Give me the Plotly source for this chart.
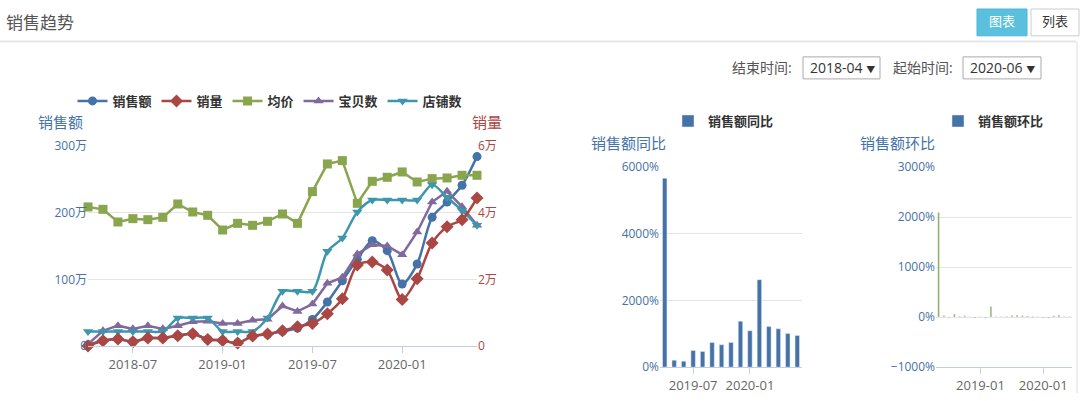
import plotly.graph_objects as go

W, H = 1080, 401

months = ['2018-04', '2018-05', '2018-06', '2018-07', '2018-08', '2018-09', '2018-10', '2018-11',
          '2018-12', '2019-01', '2019-02', '2019-03', '2019-04', '2019-05', '2019-06', '2019-07',
          '2019-08', '2019-09', '2019-10', '2019-11', '2019-12', '2020-01', '2020-02', '2020-03',
          '2020-04', '2020-05', '2020-06']

# left chart series
sales = [2, 8, 10.5, 6.5, 12, 12, 15.5, 18.5, 10, 8.5, 4.5, 15, 18, 22, 27, 40, 66, 98, 130, 158,
         143, 93, 123, 193, 216, 241, 284]                     # 销售额 (万)
volume = [0.0, 0.16, 0.21, 0.13, 0.24, 0.24, 0.31, 0.37, 0.20, 0.17, 0.09, 0.30, 0.36, 0.46, 0.58,
          0.68, 0.97, 1.42, 2.43, 2.52, 2.28, 1.40, 2.02, 3.09, 3.58, 3.79, 4.44]  # 销量 (万)
avg_price = [208.6, 205, 186, 191, 189.5, 193, 213, 201, 196, 174, 184, 181, 187, 198, 184, 231.5,
             273, 278, 214, 247, 253, 261, 246, 251, 252, 256, 256]
items = [3, 23, 30.6, 25.8, 30.6, 25.8, 30.6, 36.4, 37.3, 34, 34, 38.8, 40.2, 60, 52, 63, 94, 103,
         138, 152, 150, 137, 171, 216, 232, 209, 181]
stores = [22, 22, 22, 22, 22, 22, 42, 42, 42, 22, 22, 22, 42, 82, 82, 82, 142, 162, 201, 219, 219,
          219, 219, 242, 223, 203, 181]

left_ticks = ['2018-07', '2019-01', '2019-07', '2020-01']
left_yvals = [0, 100, 200, 300]
left_ylabels = ['0', '100万', '200万', '300万']
right_yvals = [0, 2, 4, 6]
right_ylabels = ['0', '2万', '4万', '6万']

# middle chart: 销售额同比
yoy_months = months[12:]
yoy = [5664, 210, 180, 497, 470, 737, 670, 737, 1378, 1091, 2622, 1215, 1148, 1005, 947]
yoy_ticks = ['2019-07', '2020-01']

# right chart: 销售额环比
mom_months = months[1:]
mom = [2092, 30, -15, 60, 10, 25, 5, -20, 5, -20, 210, 5, 5, 10, 30, 40, 25, 20, 10, 5, -15, -20,
       25, 40, 10, 5]
mom_ticks = ['2019-01', '2020-01']

C_BLUE, C_RED, C_GREEN, C_PURPLE, C_TEAL = '#4572A7', '#AA4643', '#89A54E', '#80699B', '#3D96AE'
FONT = 'Open Sans, Noto Sans CJK SC, sans-serif'
GRID = '#E4E4E4'
AXL = '#C0D0E0'


def px(x):
    return x / W


def py(y):
    return 1 - y / H


fig = go.Figure()

line_specs = [
    ('销售额', sales, C_BLUE, 'circle', 'spline', 'y'),
    ('销量', volume, C_RED, 'diamond', 'spline', 'y2'),
    ('均价', avg_price, C_GREEN, 'square', 'linear', 'y'),
    ('宝贝数', items, C_PURPLE, 'triangle-up', 'linear', 'y'),
    ('店铺数', stores, C_TEAL, 'triangle-down', 'spline', 'y'),
]
for name, vals, col, sym, shape, yax in line_specs:
    fig.add_trace(go.Scatter(
        x=months, y=vals, name=name, mode='lines+markers', xaxis='x', yaxis=yax,
        line=dict(color=col, width=2.5, shape=shape, smoothing=0.8),
        marker=dict(symbol=sym, size=9 if sym != 'diamond' else 10, color=col),
        legend='legend', cliponaxis=False))

fig.add_trace(go.Bar(x=yoy_months, y=yoy, name='销售额同比', marker_color=C_BLUE, width=0.47,
                     xaxis='x2', yaxis='y3', legend='legend2'))

fig.add_trace(go.Bar(x=mom_months, y=mom, name='销售额环比', marker_color=C_GREEN, width=0.32,
                     xaxis='x3', yaxis='y4', showlegend=False))
fig.add_trace(go.Bar(x=[None], y=[None], name='销售额环比', marker_color=C_BLUE,
                     xaxis='x3', yaxis='y4', legend='legend3'))

tickfont_x = dict(family=FONT, size=13, color='#666')

fig.update_layout(
    width=W, height=H, autosize=False, margin=dict(l=0, r=0, t=0, b=0),
    paper_bgcolor='white', plot_bgcolor='white', barmode='overlay',
    font=dict(family=FONT),
    xaxis=dict(domain=[px(88), px(477)], anchor='y', type='category', categoryorder='array',
               categoryarray=months, range=[0, 26], tickmode='array', tickvals=left_ticks,
               ticks='outside', ticklen=6, tickcolor=AXL, showline=True, linecolor=AXL,
               showgrid=False, zeroline=False, tickfont=tickfont_x),
    yaxis=dict(domain=[py(352), py(143)], range=[0, 300], tickmode='array', tickvals=left_yvals,
               ticktext=left_ylabels, gridcolor=GRID, zeroline=False, showline=False,
               tickfont=dict(family=FONT, size=12, color=C_BLUE)),
    yaxis2=dict(overlaying='y', side='right', anchor='x', range=[0, 6], tickmode='array',
                tickvals=right_yvals, ticktext=right_ylabels, showgrid=False, zeroline=False,
                tickfont=dict(family=FONT, size=12, color=C_RED)),
    xaxis2=dict(domain=[px(660), px(802)], anchor='y3', type='category', range=[-0.5, 14.5],
                tickmode='array', tickvals=yoy_ticks, ticks='outside', ticklen=6, tickcolor=AXL,
                showline=True, linecolor=AXL, showgrid=False, zeroline=False, tickfont=tickfont_x),
    yaxis3=dict(domain=[py(374), py(165)], anchor='x2', range=[0, 6000], dtick=2000,
                ticksuffix='%', gridcolor=GRID, zeroline=False,
                tickfont=dict(family=FONT, size=12, color=C_BLUE)),
    xaxis3=dict(domain=[px(936), px(1072)], anchor='y4', type='category', range=[-0.5, 25.5],
                tickmode='array', tickvals=mom_ticks, ticks='outside', ticklen=6, tickcolor=AXL,
                showline=True, linecolor=AXL, showgrid=False, zeroline=False, tickfont=tickfont_x),
    yaxis4=dict(domain=[py(374), py(165)], anchor='x3', range=[-1000, 3000], dtick=1000,
                ticksuffix='%', gridcolor=GRID, zeroline=False,
                tickfont=dict(family=FONT, size=12, color=C_BLUE)),
    legend=dict(orientation='h', x=px(270), xanchor='center', y=py(96), yanchor='middle',
                font=dict(family=FONT, size=13, color='#333', weight='bold'),
                bgcolor='rgba(0,0,0,0)'),
    legend2=dict(orientation='h', x=px(668), xanchor='left', y=py(117), yanchor='middle',
                 font=dict(family=FONT, size=13, color='#333', weight='bold'),
                 bgcolor='rgba(0,0,0,0)'),
    legend3=dict(orientation='h', x=px(938), xanchor='left', y=py(117), yanchor='middle',
                 font=dict(family=FONT, size=13, color='#333', weight='bold'),
                 bgcolor='rgba(0,0,0,0)'),
)

ann = []


def text(x, y, t, size=14, color='#555', anchor='center', bold=False):
    ann.append(dict(x=px(x), y=py(y), xref='paper', yref='paper', text=t, showarrow=False,
                    xanchor=anchor, yanchor='middle',
                    font=dict(family=FONT, size=size, color=color,
                              weight='bold' if bold else 'normal')))


text(4, 14, '销售趋势', size=17, color='#555', anchor='left')
text(1002, 13, '图表', size=13, color='white')
text(1055, 13, '列表', size=13, color='#333')
text(762, 61, '结束时间:', size=14, color='#555')
text(808, 61, "2018-04 <span style='font-size:9px'>▼</span>", size=14, color='#333', anchor='left')
text(923, 61, '起始时间:', size=14, color='#555')
text(968, 61, "2020-06 <span style='font-size:9px'>▼</span>", size=14, color='#333', anchor='left')
text(60, 118, '销售额', size=15, color=C_BLUE)
text(487, 118, '销量', size=15, color=C_RED)
text(628, 140, '销售额同比', size=15, color=C_BLUE)
text(897, 140, '销售额环比', size=15, color=C_BLUE)
fig.update_layout(annotations=ann)

shapes = [
    dict(type='line', xref='paper', yref='paper', x0=0, x1=px(1076), y0=py(34), y1=py(34),
         line=dict(color='#E6E6E6', width=2)),
    dict(type='line', xref='paper', yref='paper', x0=px(1077), x1=px(1077), y0=0, y1=py(34),
         line=dict(color='#DDDDDD', width=1)),
    dict(type='rect', xref='paper', yref='paper', x0=px(977), x1=px(1027), y0=py(28), y1=py(0),
         fillcolor='#5BC0DE', line=dict(color='#46B8DA', width=1)),
    dict(type='rect', xref='paper', yref='paper', x0=px(1031), x1=px(1079), y0=py(28), y1=py(0),
         fillcolor='white', line=dict(color='#CCCCCC', width=1)),
    dict(type='rect', xref='paper', yref='paper', x0=px(803), x1=px(880), y0=py(73), y1=py(50),
         fillcolor='white', line=dict(color='#AAAAAA', width=1)),
    dict(type='rect', xref='paper', yref='paper', x0=px(963), x1=px(1041), y0=py(73), y1=py(50),
         fillcolor='white', line=dict(color='#AAAAAA', width=1)),
]
fig.update_layout(shapes=shapes)

fig.write_html('out.html')
